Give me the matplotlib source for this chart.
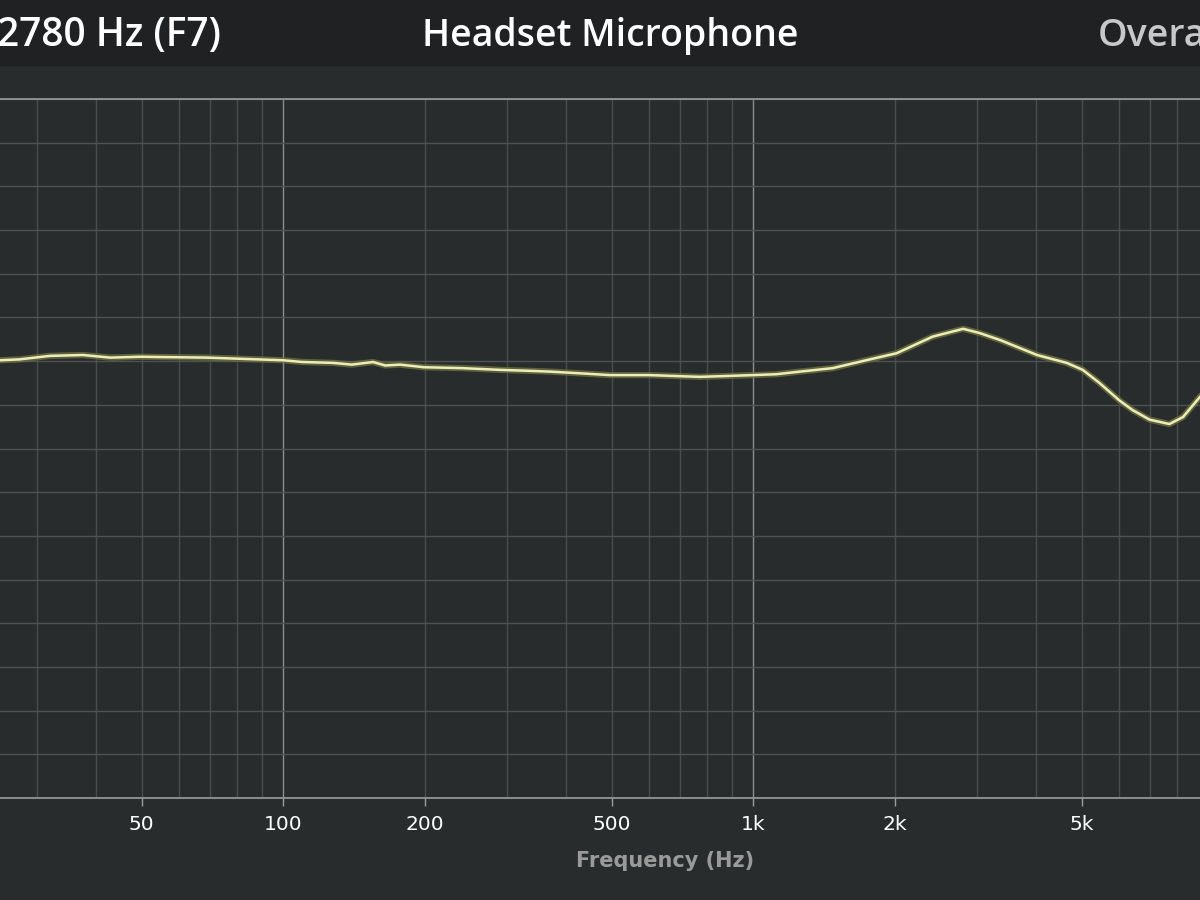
import numpy as np
import matplotlib
matplotlib.use('Agg')
import matplotlib.pyplot as plt
from matplotlib.ticker import FixedLocator, NullFormatter

# Frequency response (Hz, dB)
freq_hz = [25.0, 27.5, 31.9, 37.5, 42.9, 49.6, 68.9, 100, 110, 127.7, 140,
           155.4, 165, 177.3, 199.5, 240, 289.5, 330, 369.7, 430, 496, 600,
           770, 880, 1000, 1120, 1258, 1479, 1740, 2020, 2410, 2800, 3040,
           3360, 4020, 4650, 5030, 5460, 6020, 6420, 6980, 7690, 8220, 8930]
level_db = [80.1, 80.2, 80.6, 80.7, 80.4, 80.5, 80.4, 80.1, 79.9, 79.8, 79.6,
            79.9, 79.5, 79.6, 79.3, 79.2, 79.0, 78.9, 78.8, 78.6, 78.4, 78.4,
            78.2, 78.3, 78.4, 78.5, 78.8, 79.2, 80.1, 80.9, 82.8, 83.7, 83.2,
            82.4, 80.7, 79.8, 79.0, 77.5, 75.5, 74.4, 73.3, 72.8, 73.6, 75.9]

tick_freqs = [50, 100, 200, 500, 1000, 2000, 5000]
tick_labels = ['50', '100', '200', '500', '1k', '2k', '5k']
minor_freqs = [30, 40, 60, 70, 80, 90, 300, 400, 600, 700, 800, 900,
               3000, 4000, 6000, 7000, 8000]
decade_freqs = [100, 1000]
db_grid = list(range(30, 111, 5))

bg = '#282c2d'
bar = '#1f2123'

fig = plt.figure(figsize=(12, 9), dpi=100, facecolor=bg)

# header bar (the reference is a crop, so the side titles run off the edges)
fig.patches.append(plt.Rectangle((0, 1 - 65 / 900), 1, 65 / 900,
                                 transform=fig.transFigure, color=bar, zorder=0))
fig.text(221 / 1200, 1 - 36 / 900, '2780 Hz (F7)', ha='right', va='center',
         color='white', fontsize=28, family='Open Sans', fontweight='semibold')
fig.text(610 / 1200, 1 - 36 / 900, 'Headset Microphone', ha='center', va='center',
         color='white', fontsize=27, family='Open Sans', fontweight='semibold')
fig.text(1098 / 1200, 1 - 36 / 900, 'Overall', ha='left', va='center',
         color='#c8c8c8', fontsize=27, family='Open Sans', fontweight='semibold')

ax = fig.add_axes([0, 102 / 900, 1, 699 / 900])
ax.set_facecolor(bg)
ax.set_xscale('log')
ax.set_xlim(24.99, 8934)
ax.set_ylim(30, 110)

# grid
for f in minor_freqs + [m for m in tick_freqs if m not in decade_freqs]:
    ax.axvline(f, color='#474c4d', lw=1, zorder=1)
for f in decade_freqs:
    ax.axvline(f, color='#8a8e8e', lw=1, zorder=1)
for d in db_grid:
    ax.axhline(d, color='#4d5253', lw=1, zorder=1)

# curve: olive halo + pale yellow line
ax.plot(freq_hz, level_db, color='#6e6f3c', lw=4.5, alpha=0.8, zorder=3,
        solid_joinstyle='round')
ax.plot(freq_hz, level_db, color='#ecedbd', lw=1.8, zorder=4,
        solid_joinstyle='round')

for side in ['left', 'right']:
    ax.spines[side].set_visible(False)
for side in ['top', 'bottom']:
    ax.spines[side].set_color('#9a9e9e')
    ax.spines[side].set_linewidth(1.2)

ax.xaxis.set_major_locator(FixedLocator(tick_freqs))
ax.set_xticklabels(tick_labels)
ax.xaxis.set_minor_locator(FixedLocator([]))
ax.xaxis.set_minor_formatter(NullFormatter())
ax.tick_params(axis='x', colors='#9a9e9e', length=6, width=1, pad=6,
               labelcolor='white', labelsize=14.5)
ax.set_yticks([])

fig.text(665 / 1200, 1 - 861 / 900, 'Frequency (Hz)', ha='center', va='center',
         color='#9a9a9a', fontsize=15, fontweight='bold')

fig.savefig('out.png', dpi=100, facecolor=bg)
